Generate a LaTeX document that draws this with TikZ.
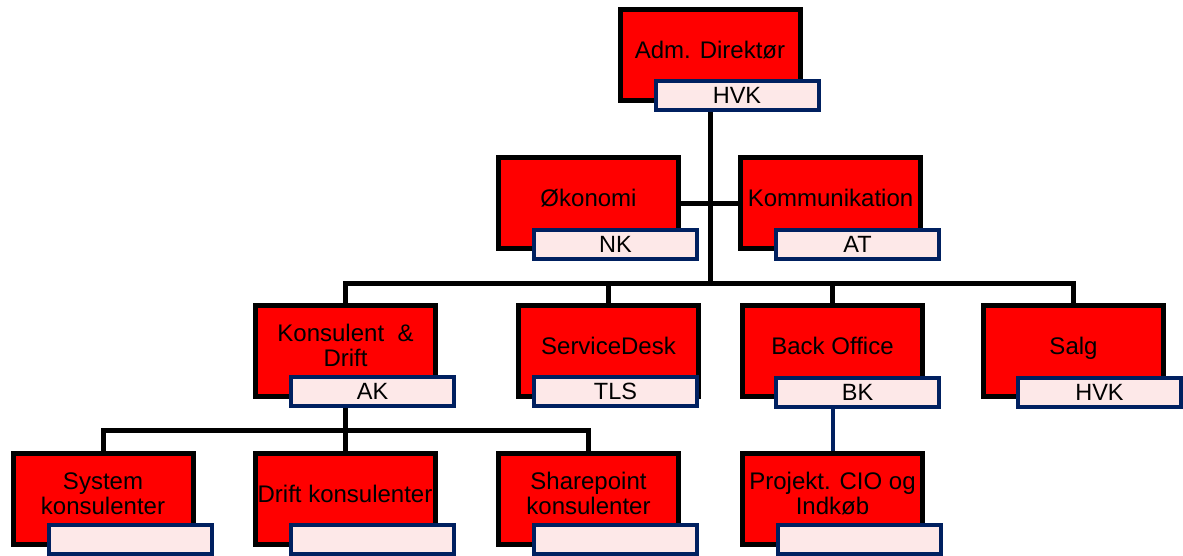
\documentclass[tikz,border=0pt]{standalone}
\usepackage{fontspec}
\setmainfont{Liberation Sans}
\usetikzlibrary{backgrounds}

\definecolor{tagblue}{RGB}{0,32,96}
\definecolor{tagfill}{RGB}{253,232,232}

\begin{document}
\begin{tikzpicture}[x=1pt,y=-1pt,
    unit/.style={draw=black, fill=red, line width=5pt, minimum width=180pt,
      minimum height=91pt, inner sep=0pt, align=center, text depth=10pt,
      font=\fontsize{24}{25}\selectfont},
    tag/.style={draw=tagblue, fill=tagfill, line width=4pt, minimum width=163pt,
      minimum height=29pt, inner sep=0pt, font=\fontsize{23.5}{25}\selectfont},
    link/.style={draw=black, line width=5pt}]

  \useasboundingbox (0,0) rectangle (1183,555);

  % units
  \begin{scope}[every node/.style={unit}]
    \node (dir)  at (710,54.5)    {Adm. Direktør};
    \node (oko)  at (588.5,203)   {Økonomi};
    \node (kom)  at (830.5,203)   {Kommunikation};
    \node (kon)  at (345.5,350.5) {Konsulent \ \&\\Drift};
    \node (sd)   at (608.5,350.5) {ServiceDesk};
    \node (bo)   at (832.5,351)   {Back Office};
    \node (salg) at (1073.5,351)  {Salg};
    \node (sys)  at (103,498.5)   {System\\konsulenter};
    \node (dk)   at (345,498.5)   {Drift konsulenter};
    \node (sp)   at (588.5,498.5) {Sharepoint\\konsulenter};
    \node (pro)  at (832.5,498.5) {Projekt. CIO og\\Indkøb};
  \end{scope}

  % initials
  \begin{scope}[every node/.style={tag}]
    \node (dirT)  at ([shift={(27,41)}]dir.center)  {HVK};
    \node (okoT)  at ([shift={(27,41)}]oko.center)  {NK};
    \node (komT)  at ([shift={(27,41)}]kom.center)  {AT};
    \node (konT)  at ([shift={(27,41)}]kon.center)  {AK};
    \node (sdT)   at ([shift={(7,41)}]sd.center)    {TLS};
    \node (boT)   at ([shift={(25,41)}]bo.center)   {BK};
    \node (salgT) at ([shift={(26,41)}]salg.center) {HVK};
    \node (sysT)  at ([shift={(27,41)}]sys.center)  {};
    \node (dkT)   at ([shift={(27,41)}]dk.center)   {};
    \node (spT)   at ([shift={(27,41)}]sp.center)   {};
    \node (proT)  at ([shift={(27,41)}]pro.center)  {};
  \end{scope}

  % lines
  \begin{scope}[on background layer]
    \coordinate (bus3) at (710,283);
    \coordinate (bus4) at (345,430);
    \path[link] (dir) -- (bus3);
    \path[link] (oko) -- (kom);
    \path[link] (kon) |- (bus3) -| (salg);
    \path[link] (sd) -- (sd |- bus3);
    \path[link] (bo) -- (bo |- bus3);
    \path[link] (kon) -- (kon |- bus4);
    \path[link] (sys) |- (bus4) -| (sp);
    \path[link] (dk) -- (dk |- bus4);
    \path[link, draw=tagblue, line width=4pt] (bo) -- (pro);
  \end{scope}

\end{tikzpicture}
\end{document}
